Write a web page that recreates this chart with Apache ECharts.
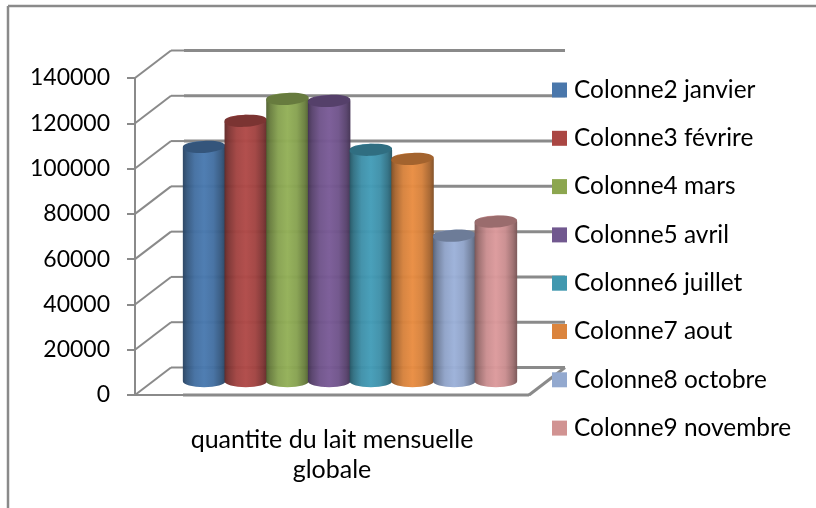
<!DOCTYPE html>
<html>
<head>
<meta charset="utf-8">
<style>html,body{margin:0;padding:0;background:#fff}#chart{width:816px;height:508px}</style>
<script src="https://cdn.jsdelivr.net/npm/echarts@6/dist/echarts.min.js"></script>
</head>
<body>
<div id="chart"></div>
<script>
// Monthly milk quantity, one cylinder per month
const categories = ['quantite du lait mensuelle\nglobale'];
const seriesNames = ['Colonne2 janvier', 'Colonne3 févrire', 'Colonne4 mars', 'Colonne5 avril',
  'Colonne6 juillet', 'Colonne7 aout', 'Colonne8 octobre', 'Colonne9 novembre'];
const seriesValues = [103500, 115000, 124700, 123800, 102200, 98200, 64300, 70500];
const seriesColors = ['#4a7ab0', '#b04a48', '#93b058', '#7a5b97', '#449db8', '#e98d42', '#9cb1d9', '#dc9a9c'];
const legendColors = ['#4a77ab', '#aa4643', '#8ca64f', '#71588f', '#4198af', '#db843d', '#93a9cf', '#d19392'];
const tickValues = [0, 20000, 40000, 60000, 80000, 100000, 120000, 140000];

// Oblique projection of the chart box, in pixels
const DEPTH_X = 36;
const DEPTH_Y = -27.5;
const AXIS_COLOR = '#8a8a8a';
const FONT = 'Lato';

// Scales a #rrggbb colour towards black by the given fraction
function shade(hex, amount) {
  const n = parseInt(hex.slice(1), 16);
  const f = 1 - amount;
  const r = Math.round((n >> 16) * f);
  const g = Math.round(((n >> 8) & 255) * f);
  const b = Math.round((n & 255) * f);
  return 'rgb(' + r + ',' + g + ',' + b + ')';
}

// Back wall, side wall and floor lines, one group per axis tick
function renderWalls(params, api) {
  const v = api.value(1);
  const p = api.coord([0, v]);
  const bandWidth = api.size([1, 0])[0];
  const left = p[0] - bandWidth / 2;
  const backX = left + DEPTH_X;
  const backY = p[1] + DEPTH_Y;
  const line = (x1, y1, x2, y2, w) => ({
    type: 'line',
    shape: { x1, y1, x2, y2 },
    style: { stroke: AXIS_COLOR, lineWidth: w, fill: null }
  });
  const children = [
    line(left, p[1], backX, backY, 2),
    line(backX, backY, backX + 13, backY, 2),
    line(backX + 13, backY, backX + bandWidth, backY, 3)
  ];
  if (v === 0) {
    children.push(line(left + 48, p[1], left + bandWidth, p[1], 3));
    children.push(line(left + bandWidth, p[1], backX + bandWidth, backY, 3));
  }
  return { type: 'group', children };
}

// One shaded cylinder standing halfway along the depth of the box
function makeCylinder(index) {
  return function (params, api) {
    const base = api.coord([0, 0]);
    const top = api.coord([0, api.value(1)]);
    const bandWidth = api.size([1, 0])[0];
    const pitch = bandWidth * 0.1058;
    const cx = base[0] + DEPTH_X / 2 + (index - 3.5) * pitch;
    const rx = pitch * 0.51;
    const ry = 6;
    const yBase = base[1] + DEPTH_Y / 2;
    const yTop = top[1] + DEPTH_Y / 2;
    const c = seriesColors[index];
    const x0 = cx - rx;
    const pathData = 'M' + x0 + ' ' + yTop +
      'L' + x0 + ' ' + yBase +
      'A' + rx + ' ' + ry + ' 0 0 0 ' + (cx + rx) + ' ' + yBase +
      'L' + (cx + rx) + ' ' + yTop +
      'A' + rx + ' ' + ry + ' 0 0 0 ' + x0 + ' ' + yTop + 'Z';
    return {
      type: 'group',
      children: [
        {
          type: 'path',
          shape: { pathData, x: x0, y: yTop - ry, width: rx * 2, height: yBase + ry - yTop + ry },
          style: {
            opacity: 0.97,
            fill: new echarts.graphic.LinearGradient(0, 0, 1, 0, [
              { offset: 0, color: shade(c, 0.45) },
              { offset: 0.1, color: shade(c, 0.28) },
              { offset: 0.28, color: shade(c, 0.08) },
              { offset: 0.5, color: c },
              { offset: 0.72, color: shade(c, 0.08) },
              { offset: 0.9, color: shade(c, 0.28) },
              { offset: 1, color: shade(c, 0.45) }
            ])
          }
        },
        {
          type: 'ellipse',
          rotation: 0.06,
          originX: cx,
          originY: yTop,
          shape: { cx, cy: yTop, rx, ry },
          style: { fill: shade(c, 0.3) }
        }
      ]
    };
  };
}

const chart = echarts.init(document.getElementById('chart'), null, { renderer: 'canvas' });
chart.setOption({
  animation: false,
  backgroundColor: '#ffffff',
  graphic: [
    { type: 'line', shape: { x1: 8, y1: 6, x2: 816, y2: 6 }, style: { stroke: AXIS_COLOR, lineWidth: 2.5 } },
    { type: 'line', shape: { x1: 8, y1: 6, x2: 8, y2: 508 }, style: { stroke: AXIS_COLOR, lineWidth: 2.5 } }
  ],
  grid: { left: 135, right: 287, top: 78, bottom: 113 },
  legend: {
    orient: 'vertical',
    left: 552,
    top: 78,
    padding: 0,
    itemWidth: 15,
    itemHeight: 15,
    itemGap: 24.3,
    icon: 'rect',
    data: seriesNames,
    textStyle: { fontFamily: FONT, fontSize: 24.4, color: '#000', lineHeight: 24, padding: [0, 0, 0, 2] },
    selectedMode: false
  },
  xAxis: {
    type: 'category',
    data: categories,
    axisLine: { lineStyle: { color: AXIS_COLOR, width: 2 } },
    axisTick: { length: 9, lineStyle: { color: AXIS_COLOR, width: 2 } },
    axisLabel: { fontFamily: FONT, fontSize: 25, color: '#000', lineHeight: 30, margin: 30 }
  },
  yAxis: {
    type: 'value',
    min: 0,
    max: 140000,
    interval: 20000,
    splitLine: { show: false },
    axisLine: { show: true, lineStyle: { color: AXIS_COLOR, width: 2 } },
    axisTick: { show: true, length: 8, lineStyle: { color: AXIS_COLOR, width: 2 } },
    axisLabel: { fontFamily: FONT, fontSize: 23, color: '#000', margin: 25, formatter: v => String(v) }
  },
  series: [
    {
      type: 'custom',
      name: 'walls',
      z: 1,
      silent: true,
      clip: false,
      renderItem: renderWalls,
      data: tickValues.map(v => [0, v])
    }
  ].concat(seriesNames.map((name, i) => ({
    type: 'custom',
    name,
    z: 2 + i,
    clip: false,
    itemStyle: { color: legendColors[i] },
    renderItem: makeCylinder(i),
    data: [[0, seriesValues[i]]]
  })))
});
</script>
</body>
</html>
